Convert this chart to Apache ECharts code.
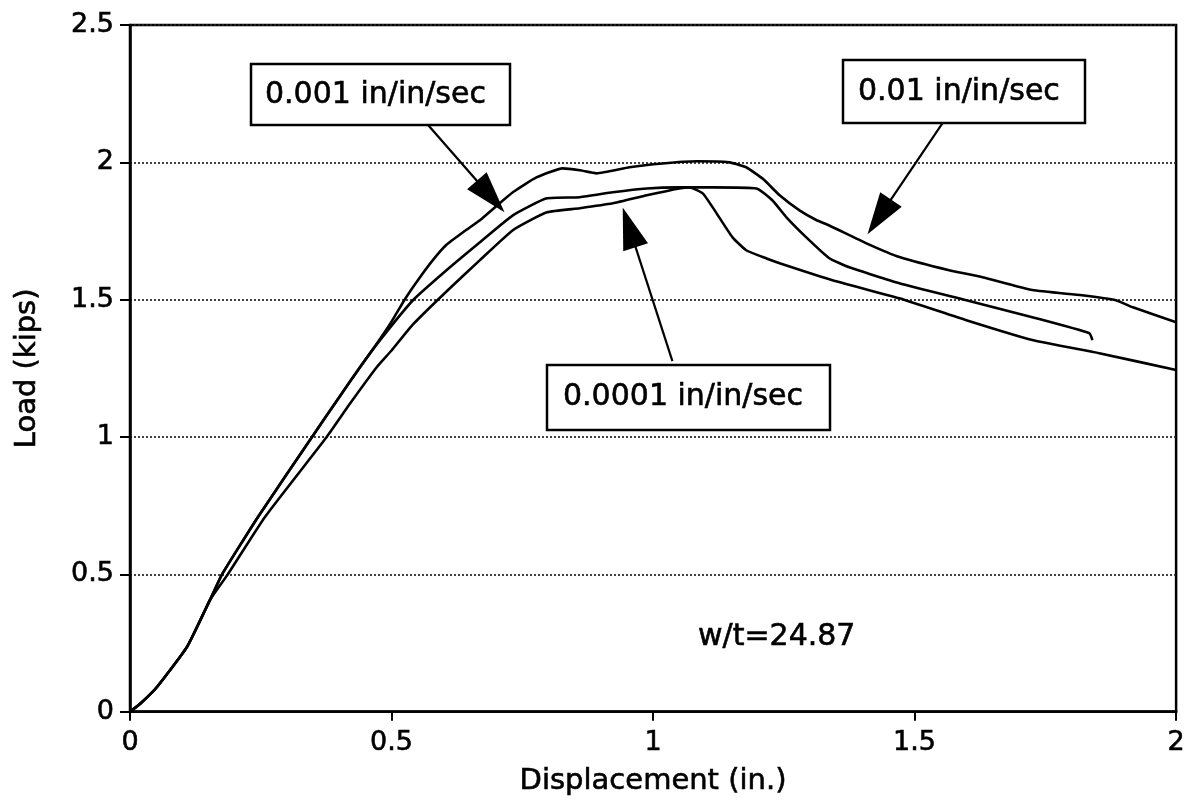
<!DOCTYPE html>
<html>
<head>
<meta charset="utf-8">
<script src="https://cdn.jsdelivr.net/npm/echarts@6/dist/echarts.min.js"></script>
<style>
html,body{margin:0;padding:0;background:#fff;}
#chart{width:1188px;height:801px;}
</style>
</head>
<body>
<div id="chart"></div>
<script>
// ---- data (displacement in., load kips) ----
const xTicks = [0, 0.5, 1, 1.5, 2];
const yTicks = [0, 0.5, 1, 1.5, 2, 2.5];

const rate001 = [ // 0.01 in/in/sec
  [0,0],[0.02,0.03],[0.052,0.091],[0.109,0.236],[0.153,0.407],[0.176,0.5],[0.245,0.71],[0.348,1.0],
  [0.40,1.145],[0.44,1.255],[0.47,1.335],[0.50,1.42],[0.525,1.5],[0.55,1.57],[0.579,1.644],
  [0.605,1.70],[0.64,1.75],[0.669,1.789],[0.70,1.84],[0.732,1.891],[0.777,1.945],[0.827,1.978],[0.86,1.971],[0.892,1.96],
  [0.955,1.982],[1.018,1.996],[1.083,2.004],[1.146,2.0],[1.178,1.982],[1.21,1.94],[1.242,1.88],
  [1.28,1.825],[1.312,1.79],[1.337,1.77],[1.408,1.705],[1.471,1.655],[1.566,1.607],[1.63,1.582],
  [1.725,1.535],[1.82,1.516],[1.885,1.498],[1.916,1.473],[2.0,1.418]
];
const rate0001 = [ // 0.001 in/in/sec
  [0,0],[0.02,0.03],[0.052,0.091],[0.109,0.236],[0.153,0.407],[0.176,0.5],[0.245,0.71],[0.348,1.0],
  [0.40,1.145],[0.44,1.255],[0.481,1.36],[0.541,1.498],[0.605,1.607],[0.669,1.709],[0.732,1.807],
  [0.797,1.869],[0.86,1.873],[0.923,1.891],[0.988,1.905],[1.05,1.909],[1.114,1.909],[1.198,1.905],
  [1.228,1.862],[1.255,1.8],[1.293,1.727],[1.337,1.651],[1.375,1.618],[1.471,1.56],[1.599,1.498],
  [1.725,1.436],[1.834,1.378],[1.84,1.353]
];
const rate00001 = [ // 0.0001 in/in/sec
  [0,0],[0.02,0.03],[0.052,0.091],[0.109,0.236],[0.153,0.407],[0.187,0.5],[0.258,0.709],[0.376,1.0],
  [0.42,1.12],[0.472,1.255],[0.50,1.315],[0.541,1.41],[0.605,1.53],[0.669,1.644],[0.732,1.753],
  [0.797,1.818],[0.86,1.833],[0.923,1.851],[0.988,1.88],[1.05,1.905],[1.07,1.909],[1.095,1.887],
  [1.114,1.836],[1.152,1.727],[1.178,1.68],[1.217,1.65],[1.242,1.633],[1.343,1.571],[1.471,1.505],
  [1.599,1.425],[1.725,1.353],[1.853,1.305],[2.0,1.244]
];

// annotation labels and arrows (data coordinates: from -> tip)
const annotationLabels = ['0.001 in/in/sec', '0.01 in/in/sec', '0.0001 in/in/sec'];
const arrowFrom = [[0.569,2.138],[1.557,2.153],[1.037,1.276]];
const arrowTo   = [[0.716,1.818],[1.410,1.738],[0.942,1.836]];
const noteText = 'w/t=24.87';

const FONT = 'DejaVu Sans';
const chart = echarts.init(document.getElementById('chart'));

const arrowData = arrowFrom.map((f, i) => [f[0], f[1], arrowTo[i][0], arrowTo[i][1]]);

function lineSeries(name, data) {
  return {
    name: name, type: 'line', data: data, showSymbol: false, symbol: 'none',
    smooth: 0.15, animation: false,
    lineStyle: { color: '#000', width: 2.6 }
  };
}

const textThick = { textBorderColor: '#000', textBorderWidth: 0.6 };

const option = {
  backgroundColor: '#fff',
  animation: false,
  grid: { left: 130, right: 11, top: 25, bottom: 89, show: true, borderColor: '#000', borderWidth: 2.5 },
  xAxis: {
    type: 'value', min: 0, max: 2, interval: 0.5,
    name: 'Displacement (in.)', nameLocation: 'middle', nameGap: 55,
    nameTextStyle: Object.assign({ fontFamily: FONT, fontSize: 29, color: '#000' }, textThick),
    axisLine: { show: true, lineStyle: { color: '#000', width: 2.5 } },
    axisTick: { show: true, inside: false, length: 9, lineStyle: { color: '#000', width: 2 } },
    axisLabel: Object.assign({ fontFamily: FONT, fontSize: 27, color: '#000', margin: 18,
      formatter: v => String(v) }, textThick),
    splitLine: { show: false }
  },
  yAxis: {
    type: 'value', min: 0, max: 2.5, interval: 0.5,
    name: 'Load (kips)', nameLocation: 'middle', nameGap: 88, nameRotate: 90,
    nameTextStyle: Object.assign({ fontFamily: FONT, fontSize: 29, color: '#000' }, textThick),
    axisLine: { show: true, lineStyle: { color: '#000', width: 2.5 } },
    axisTick: { show: true, inside: false, length: 10, lineStyle: { color: '#000', width: 2 } },
    axisLabel: Object.assign({ fontFamily: FONT, fontSize: 27, color: '#000', margin: 16,
      formatter: v => String(v) }, textThick),
    splitLine: { show: true, lineStyle: { color: '#222', width: 1.7, type: [2, 2] } }
  },
  series: [
    lineSeries('0.01 in/in/sec', rate001),
    lineSeries('0.001 in/in/sec', rate0001),
    lineSeries('0.0001 in/in/sec', rate00001),
    {
      type: 'custom', name: 'arrows', data: arrowData, clip: false, silent: true,
      encode: { x: [0, 2], y: [1, 3] },
      renderItem: function (params, api) {
        const p1 = api.coord([api.value(0), api.value(1)]);
        const p2 = api.coord([api.value(2), api.value(3)]);
        const dx = p2[0] - p1[0], dy = p2[1] - p1[1];
        const len = Math.sqrt(dx * dx + dy * dy);
        const ux = dx / len, uy = dy / len;
        const headL = 42, headW = 13;
        const bx = p2[0] - ux * headL, by = p2[1] - uy * headL;
        return {
          type: 'group',
          children: [
            { type: 'line', shape: { x1: p1[0], y1: p1[1], x2: bx + ux * 2, y2: by + uy * 2 },
              style: { stroke: '#000', lineWidth: 2.2 } },
            { type: 'polygon', shape: { points: [
                [p2[0], p2[1]],
                [bx - uy * headW, by + ux * headW],
                [bx + uy * headW, by - ux * headW]
              ] }, style: { fill: '#000' } }
          ]
        };
      }
    }
  ],
  graphic: [
    { type: 'rect', shape: { x: 251, y: 64, width: 259, height: 61 },
      style: { fill: '#fff', stroke: '#000', lineWidth: 2.5 }, z: 10 },
    { type: 'text', x: 265, y: 95, z: 11,
      style: { text: annotationLabels[0], font: '30px "DejaVu Sans"', fill: '#000', stroke: '#000', lineWidth: 0.6, verticalAlign: 'middle' } },
    { type: 'rect', shape: { x: 843, y: 60, width: 242, height: 63 },
      style: { fill: '#fff', stroke: '#000', lineWidth: 2.5 }, z: 10 },
    { type: 'text', x: 858, y: 92, z: 11,
      style: { text: annotationLabels[1], font: '30px "DejaVu Sans"', fill: '#000', stroke: '#000', lineWidth: 0.6, verticalAlign: 'middle' } },
    { type: 'rect', shape: { x: 547, y: 365, width: 283, height: 65 },
      style: { fill: '#fff', stroke: '#000', lineWidth: 2.5 }, z: 10 },
    { type: 'text', x: 563, y: 397, z: 11,
      style: { text: annotationLabels[2], font: '30px "DejaVu Sans"', fill: '#000', stroke: '#000', lineWidth: 0.6, verticalAlign: 'middle' } },
    { type: 'text', x: 698, y: 637, z: 11,
      style: { text: noteText, font: '30px "DejaVu Sans"', fill: '#000', stroke: '#000', lineWidth: 0.6, verticalAlign: 'middle' } }
  ]
};
chart.setOption(option);
</script>
</body>
</html>
